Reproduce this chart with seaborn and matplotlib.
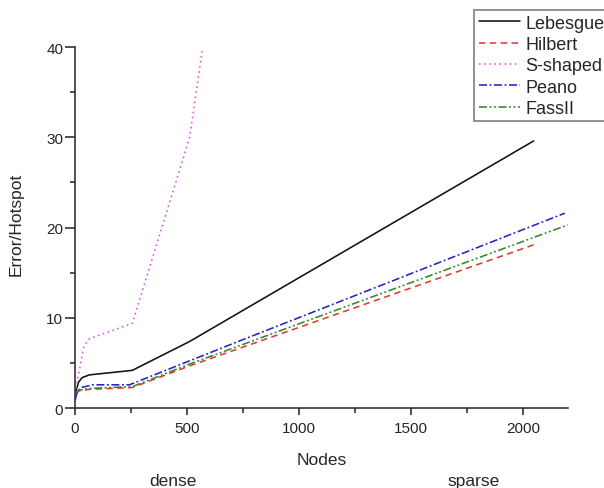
import matplotlib
matplotlib.use("Agg")
import matplotlib.pyplot as plt
from matplotlib.ticker import MultipleLocator
import pandas as pd
import seaborn as sns

# --- Data --------------------------------------------------------------------
lebesgue_x = [4, 16, 32, 64, 256, 512, 2048]
lebesgue_y = [1.9, 2.9, 3.4, 3.7, 4.2, 7.4, 29.6]

hilbert_x = [4, 16, 64, 256, 512, 2048]
hilbert_y = [1.5, 1.9, 2.1, 2.3, 4.7, 18.1]

sshaped_x = [4, 16, 40, 64, 256, 512, 568]
sshaped_y = [2.2, 3.8, 6.9, 7.7, 9.4, 30.0, 39.6]

peano_x = [1, 9, 27, 81, 243, 729, 2187]
peano_y = [0.9, 1.8, 2.3, 2.6, 2.6, 7.4, 21.6]

fassii_x = [4, 16, 64, 256, 512, 2200]
fassii_y = [1.7, 2.0, 2.2, 2.4, 4.9, 20.3]

curve_names = ["Lebesgue", "Hilbert", "S-shaped", "Peano", "FassII"]

series = {
    "Lebesgue": (lebesgue_x, lebesgue_y),
    "Hilbert": (hilbert_x, hilbert_y),
    "S-shaped": (sshaped_x, sshaped_y),
    "Peano": (peano_x, peano_y),
    "FassII": (fassii_x, fassii_y),
}
df = pd.concat(
    [pd.DataFrame({"nodes": xs, "error": ys, "curve": name})
     for name, (xs, ys) in series.items()],
    ignore_index=True,
)

palette = {
    "Lebesgue": "#111111",
    "Hilbert": "#e23a2e",
    "S-shaped": "#dd4fdd",
    "Peano": "#2424c0",
    "FassII": "#2e8a2e",
}
dashes = {
    "Lebesgue": "",
    "Hilbert": (4, 2.8),
    "S-shaped": (1, 2.2),
    "Peano": (5, 1.6, 1.2, 1.6),
    "FassII": (5, 1.6, 1.2, 1.6, 1.2, 1.6),
}

# --- Style -------------------------------------------------------------------
sns.set_style("ticks")
plt.rcParams["font.family"] = ["Liberation Sans", "DejaVu Sans"]

fig = plt.figure(figsize=(6.04, 4.89), dpi=100)
ax = fig.add_axes([75 / 604, 1 - 409.3 / 489, 492.7 / 604, 361.3 / 489])

sns.lineplot(
    data=df, x="nodes", y="error", hue="curve", style="curve",
    hue_order=curve_names, style_order=curve_names,
    palette=palette, dashes=dashes, linewidth=1.15,
    errorbar=None, sort=False, estimator=None, ax=ax,
)

ax.set_xlim(0, 2200)
ax.set_ylim(0, 40)
ax.xaxis.set_major_locator(MultipleLocator(500))
ax.xaxis.set_minor_locator(MultipleLocator(250))
ax.yaxis.set_major_locator(MultipleLocator(10))
ax.yaxis.set_minor_locator(MultipleLocator(5))

for side in ["top", "right"]:
    ax.spines[side].set_visible(False)
for side in ["left", "bottom"]:
    ax.spines[side].set_color("#333333")
    ax.spines[side].set_linewidth(1.2)

ax.tick_params(axis="x", which="major", direction="out", length=5, width=1.2,
               pad=4.5, labelsize=11, color="#333333")
ax.tick_params(axis="y", which="major", direction="out", length=7, width=1.2,
               pad=1.5, labelsize=11, color="#333333")
ax.tick_params(which="minor", direction="out", length=3.5, width=1.2,
               color="#333333")

ax.set_xlabel("Nodes", fontsize=12.5)
ax.set_ylabel("Error/Hotspot", fontsize=12.5)
ax.xaxis.set_label_coords(0.5, -0.122)
ax.yaxis.set_label_coords(-0.105, 0.513)

ax.text(438, -0.2, "dense", transform=ax.get_xaxis_transform(),
        ha="center", va="center", fontsize=12.5)
ax.text(1779, -0.2, "sparse", transform=ax.get_xaxis_transform(),
        ha="center", va="center", fontsize=12.5)

# Legend sits partly outside the axes, touching the right edge
handles, labels = ax.get_legend_handles_labels()
ax.get_legend().remove()
leg = fig.legend(
    handles, labels, loc="upper left",
    bbox_to_anchor=(474 / 604, 1 - 11 / 489), bbox_transform=fig.transFigure,
    fontsize=13, frameon=True, fancybox=False, framealpha=1,
    edgecolor="#888888", handlelength=2.3, handletextpad=0.3,
    labelspacing=0.24, borderpad=0.25, borderaxespad=0,
)
leg.get_frame().set_linewidth(1.3)

plt.savefig("out.png", dpi=100)
plt.close()
